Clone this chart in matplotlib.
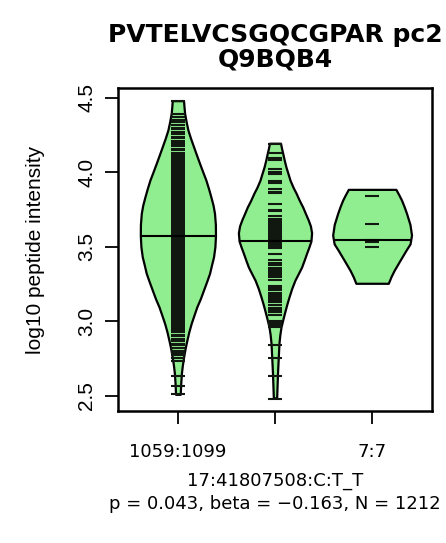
import matplotlib
matplotlib.use("Agg")
import matplotlib.pyplot as plt
import numpy as np

# ---------------- data ----------------
groups = ["1059:1099", "", "7:7"]
positions = [1, 2, 3]
medians = [3.575, 3.541, 3.548]

# bean outlines: y level and density half-width (x units)
bean1_y = [4.482, 4.44, 4.397, 4.34, 4.285, 4.23, 4.173, 4.12, 4.061, 4.00, 3.949, 3.89, 3.837,
           3.78, 3.725, 3.65, 3.575, 3.50, 3.433, 3.38, 3.322, 3.27, 3.210, 3.15, 3.097, 3.04,
           2.986, 2.93, 2.874, 2.82, 2.761, 2.70, 2.650, 2.58, 2.509]
bean1_w = [0.058, 0.063, 0.069, 0.085, 0.103, 0.130, 0.161, 0.190, 0.223, 0.258, 0.288, 0.316, 0.339,
           0.362, 0.377, 0.386, 0.387, 0.381, 0.367, 0.347, 0.326, 0.298, 0.264, 0.230, 0.195, 0.165,
           0.137, 0.113, 0.093, 0.075, 0.059, 0.045, 0.036, 0.029, 0.024]

bean2_y = [4.196, 4.16, 4.130, 4.08, 4.036, 3.99, 3.949, 3.90, 3.862, 3.81, 3.768, 3.72, 3.681,
           3.64, 3.594, 3.539, 3.50, 3.458, 3.41, 3.364, 3.32, 3.277, 3.22, 3.163, 3.11, 3.056,
           3.01, 2.962, 2.91, 2.853, 2.761, 2.653, 2.485]
bean2_w = [0.057, 0.068, 0.079, 0.096, 0.113, 0.135, 0.154, 0.186, 0.216, 0.252, 0.285, 0.316, 0.342,
           0.365, 0.377, 0.370, 0.350, 0.326, 0.300, 0.274, 0.240, 0.206, 0.172, 0.144, 0.120, 0.098,
           0.080, 0.062, 0.050, 0.041, 0.034, 0.026, 0.017]

bean3_y = [3.886, 3.85, 3.814, 3.77, 3.724, 3.65, 3.579, 3.52, 3.478, 3.41, 3.341, 3.30, 3.255]
bean3_w = [0.245, 0.275, 0.303, 0.330, 0.355, 0.390, 0.406, 0.391, 0.350, 0.288, 0.226, 0.195, 0.167]

# individual observations (bean lines)
bean1_vals = [
    4.48, 4.39, 4.37, 4.35, 4.34, 4.32, 4.30, 4.29, 4.27, 4.26, 4.24, 4.23, 4.21, 4.20, 4.19, 4.18,
    4.16, 4.15, 4.13, 4.12, 4.11, 4.10, 4.09, 4.08, 4.07, 4.06, 4.05, 4.04, 4.03, 4.02,
    4.01, 4.00, 3.99, 3.98, 3.97, 3.96, 3.95, 3.94, 3.93, 3.92, 3.91, 3.90, 3.89, 3.88, 3.87, 3.86,
    3.85, 3.84, 3.83, 3.82, 3.81, 3.80, 3.79, 3.78, 3.77, 3.76, 3.75, 3.74, 3.73, 3.72, 3.71, 3.70,
    3.69, 3.68, 3.67, 3.66, 3.65, 3.64, 3.63, 3.62, 3.61, 3.60, 3.59, 3.58, 3.57, 3.56, 3.55, 3.54,
    3.53, 3.52, 3.51, 3.50, 3.49, 3.48, 3.47, 3.46, 3.45, 3.44, 3.43, 3.42, 3.41, 3.40, 3.39, 3.38,
    3.37, 3.36, 3.35, 3.34, 3.33, 3.32, 3.31, 3.30, 3.29, 3.28, 3.27, 3.26, 3.25, 3.24, 3.23, 3.22,
    3.21, 3.20, 3.19, 3.18, 3.17, 3.16, 3.15, 3.14, 3.13, 3.12, 3.11, 3.10, 3.09, 3.08, 3.07, 3.06,
    3.05, 3.04, 3.03, 3.02, 3.01, 3.00, 2.99, 2.98, 2.97, 2.96,
    2.95, 2.94, 2.93, 2.91, 2.90, 2.88, 2.87, 2.85, 2.84, 2.82, 2.80, 2.79, 2.77, 2.75, 2.73,
    2.63, 2.565, 2.51]
bean2_vals = [
    4.19, 4.13, 4.10, 4.08, 4.02, 4.00, 3.99, 3.94, 3.93, 3.89, 3.87, 3.86, 3.79, 3.75, 3.74, 3.71,
    3.69, 3.68, 3.67, 3.66, 3.65, 3.64, 3.63, 3.62, 3.61, 3.60, 3.59, 3.58, 3.57, 3.56, 3.55, 3.53,
    3.52, 3.51, 3.50, 3.49, 3.45, 3.41, 3.38, 3.36, 3.35, 3.39, 3.34, 3.33, 3.32, 3.31, 3.30, 3.28,
    3.24, 3.23, 3.22, 3.21, 3.19, 3.18, 3.17, 3.16, 3.15, 3.14, 3.13, 3.11, 3.09, 3.08, 3.07, 3.06,
    3.04, 3.00, 2.99, 2.98, 2.97, 2.96, 2.84, 2.75, 2.635, 2.48]
bean3_vals = [3.841, 3.653, 3.548, 3.534, 3.50]

ylim = (2.397, 4.565)
yticks = [2.5, 3.0, 3.5, 4.0, 4.5]
ytick_labels = ["2.5", "3.0", "3.5", "4.0", "4.5"]
title_lines = ["PVTELVCSGQCGPAR pc2", "Q9BQB4"]
xlab_lines = ["17:41807508:C:T_T", "p = 0.043, beta = \u22120.163, N = 1212"]
ylab = "log10 peptide intensity"

# ---------------- styling ----------------
W, H = 446, 543
DPI = 100
fill_col = "#90EE90"
line_half = 0.069
HF = "DejaVu Sans"
VF = "Liberation Sans"

fig = plt.figure(figsize=(W / DPI, H / DPI), dpi=DPI)
ax = fig.add_axes([117.7 / W, 1 - 411 / H, (432.3 - 117.7) / W, (411 - 88.3) / H])

beans = [(bean1_y, bean1_w, bean1_vals), (bean2_y, bean2_w, bean2_vals), (bean3_y, bean3_w, bean3_vals)]
for pos, (by, bw, vals), med in zip(positions, beans, medians):
    by = np.asarray(by)
    bw = np.asarray(bw)
    ax.fill_betweenx(by, pos - bw, pos + bw, facecolor=fill_col, edgecolor="black",
                     linewidth=1.6, zorder=2)
    ax.hlines(vals, pos - line_half, pos + line_half, colors="#101810", linewidth=1.5, zorder=3)
    order = np.argsort(by)
    mw = np.interp(med, by[order], bw[order])
    ax.hlines(med, pos - mw, pos + mw, colors="black", linewidth=1.5, zorder=4)

ax.set_xlim(0.38, 3.62)
ax.set_ylim(*ylim)
ax.set_xticks(positions)
ax.set_xticklabels(groups, fontsize=13, family=HF)
ax.set_yticks(yticks)
ax.set_yticklabels(ytick_labels, fontsize=15, family=VF, rotation=90, va="center")
ax.tick_params(axis="both", direction="out", length=9.3, width=1.3, color="black")
ax.tick_params(axis="x", pad=14)
ax.tick_params(axis="y", pad=6)
for sp in ax.spines.values():
    sp.set_linewidth(1.8)
    sp.set_color("black")

cx = 275 / W
fig.text(cx, 1 - 47.5 / H, "\n".join(title_lines), ha="center", va="center", fontsize=18,
         fontweight="bold", family=HF, linespacing=1.0, multialignment="center")
fig.text(cx, 1 - 492.5 / H, "\n".join(xlab_lines), ha="center", va="center", fontsize=13,
         family=HF, linespacing=1.3, multialignment="center")
fig.text(36 / W, 1 - 249.5 / H, ylab, ha="center", va="center", rotation=90, fontsize=15,
         family=VF)

fig.savefig("out.png", dpi=DPI)
